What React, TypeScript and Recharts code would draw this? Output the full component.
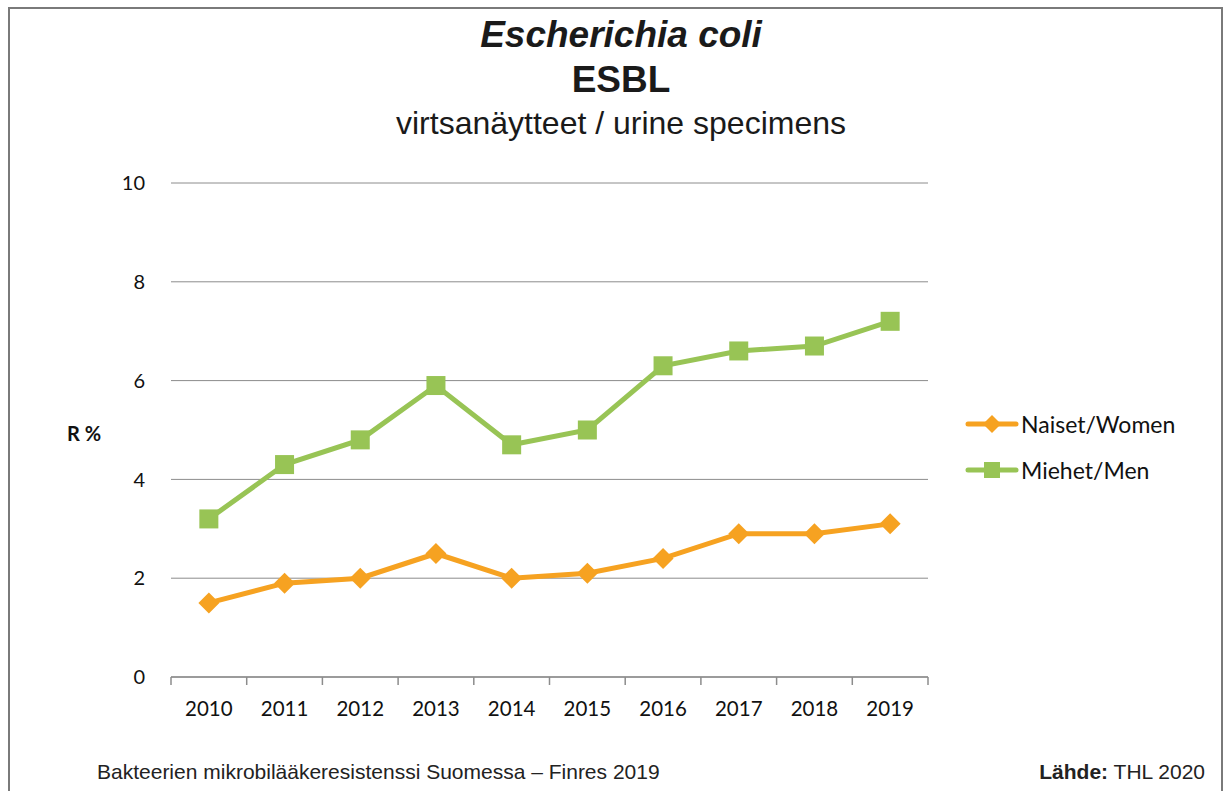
import { LineChart, Line, XAxis, YAxis, CartesianGrid } from 'recharts'

const years = [2010, 2011, 2012, 2013, 2014, 2015, 2016, 2017, 2018, 2019]
const women = [1.5, 1.9, 2.0, 2.5, 2.0, 2.1, 2.4, 2.9, 2.9, 3.1]
const men = [3.2, 4.3, 4.8, 5.9, 4.7, 5.0, 6.3, 6.6, 6.7, 7.2]
const yTicks = [0, 2, 4, 6, 8, 10]
const edgeTicks = [2009.5, 2010.5, 2011.5, 2012.5, 2013.5, 2014.5, 2015.5, 2016.5, 2017.5, 2018.5, 2019.5]
const seriesNames = ['Naiset/Women', 'Miehet/Men']

const ORANGE = '#F6A221'
const GREEN = '#98C455'
const AXIS = '#8c8c8c'
const TICK_FONT = 'Lato, "Noto Sans", sans-serif'

const data = years.map((year, i) => ({ year, women: women[i], men: men[i] }))

function Diamond(props: any) {
  const { cx, cy, half = 10.5, color } = props
  if (cx == null || cy == null) return null
  return <path d={`M${cx},${cy - half}L${cx + half},${cy}L${cx},${cy + half}L${cx - half},${cy}Z`} fill={color} />
}

function Square(props: any) {
  const { cx, cy, half = 9.5, color } = props
  if (cx == null || cy == null) return null
  return <rect x={cx - half} y={cy - half} width={half * 2} height={half * 2} fill={color} />
}

function LegendBox() {
  const items = [
    { name: seriesNames[0], color: ORANGE, diamond: true },
    { name: seriesNames[1], color: GREEN, diamond: false },
  ]
  return (
    <div style={{ position: 'absolute', left: 965, top: 401, fontFamily: TICK_FONT, fontSize: 23, color: '#111' }}>
      {items.map((it) => (
        <div key={it.name} style={{ display: 'flex', alignItems: 'center', height: 46 }}>
          <svg width={54} height={24} style={{ marginRight: 2 }}>
            <line x1={3} y1={12} x2={51} y2={12} stroke={it.color} strokeWidth={5} strokeLinecap="round" />
            {it.diamond ? (
              <Diamond cx={27} cy={12} half={9} color={it.color} />
            ) : (
              <Square cx={27} cy={12} half={8} color={it.color} />
            )}
          </svg>
          <span>{it.name}</span>
        </div>
      ))}
    </div>
  )
}

export default function App() {
  return (
    <div style={{ position: 'absolute', left: 0, top: 0, width: 1228, height: 791, background: '#fff', overflow: 'hidden' }}>
      <div
        style={{
          position: 'absolute',
          left: 8,
          top: 7,
          width: 1215,
          height: 820,
          border: '2px solid #7a7a7a',
          boxSizing: 'border-box',
        }}
      />
      <div style={{ position: 'absolute', left: 0, width: 1242, top: 13, textAlign: 'center', fontFamily: '"Liberation Sans", Arial, sans-serif', color: '#1a1a1a' }}>
        <div style={{ fontSize: 37, fontWeight: 'bold', fontStyle: 'italic', lineHeight: '44px' }}>Escherichia coli</div>
        <div style={{ fontSize: 37, fontWeight: 'bold', lineHeight: '46px' }}>ESBL</div>
        <div style={{ fontSize: 32, lineHeight: '40px' }}>virtsanäytteet / urine specimens</div>
      </div>
      <div style={{ position: 'absolute', left: 67, top: 421, fontFamily: TICK_FONT, fontWeight: 'bold', fontSize: 20, color: '#111' }}>R %</div>
      <div style={{ position: 'absolute', left: 97, top: 760, fontFamily: '"Liberation Sans", Arial, sans-serif', fontSize: 21, color: '#222' }}>
        Bakteerien mikrobilääkeresistenssi Suomessa – Finres 2019
      </div>
      <div style={{ position: 'absolute', right: 23, top: 760, fontFamily: '"Liberation Sans", Arial, sans-serif', fontSize: 21, color: '#222' }}>
        <b>Lähde:</b> THL 2020
      </div>
      <LegendBox />
      <div style={{ position: 'absolute', left: 0, top: 0 }}>
        <LineChart width={1228} height={791} data={data} margin={{ top: 183, right: 300, bottom: 112, left: 111 }}>
          <CartesianGrid horizontal vertical={false} stroke={AXIS} strokeWidth={1} />
          <XAxis
            xAxisId="edges"
            dataKey="year"
            type="number"
            domain={[2009.5, 2019.5]}
            ticks={edgeTicks}
            height={1}
            axisLine={{ stroke: AXIS, strokeWidth: 1.5 }}
            tickLine={{ stroke: AXIS, strokeWidth: 1.5 }}
            tickSize={8}
            tickFormatter={() => ''}
          />
          <XAxis
            xAxisId="labels"
            dataKey="year"
            type="number"
            domain={[2009.5, 2019.5]}
            ticks={years}
            height={1}
            axisLine={false}
            tickLine={false}
            tickSize={0}
            tickMargin={23}
            tick={{ fontSize: 20.5, fill: '#111', fontFamily: TICK_FONT }}
          />
          <YAxis
            width={60}
            domain={[0, 10]}
            ticks={yTicks}
            axisLine={false}
            tickLine={false}
            tickSize={0}
            tickMargin={26}
            tick={{ fontSize: 20, fill: '#111', fontFamily: TICK_FONT }}
          />
          <Line
            xAxisId="labels"
            dataKey="women"
            name={seriesNames[0]}
            stroke={ORANGE}
            strokeWidth={5}
            dot={<Diamond color={ORANGE} />}
            activeDot={false}
            isAnimationActive={false}
          />
          <Line
            xAxisId="labels"
            dataKey="men"
            name={seriesNames[1]}
            stroke={GREEN}
            strokeWidth={5}
            dot={<Square color={GREEN} />}
            activeDot={false}
            isAnimationActive={false}
          />
        </LineChart>
      </div>
    </div>
  )
}
